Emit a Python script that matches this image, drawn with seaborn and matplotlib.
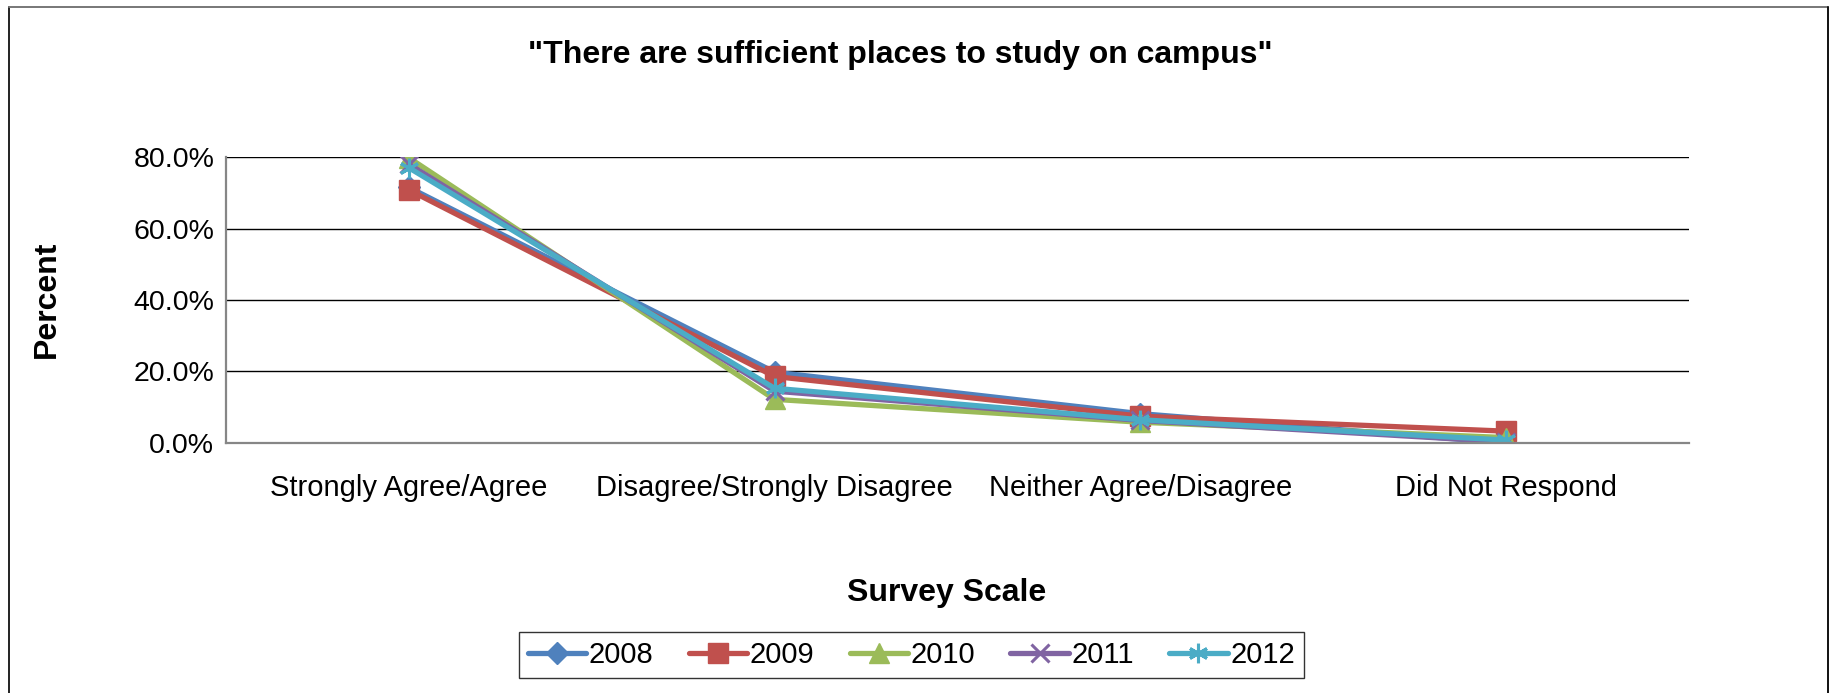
import matplotlib
matplotlib.use("Agg")
import matplotlib.pyplot as plt
import seaborn as sns
import pandas as pd
from matplotlib.lines import Line2D
from matplotlib.ticker import PercentFormatter, FixedLocator

categories = ["Strongly Agree/Agree", "Disagree/Strongly Disagree",
              "Neither Agree/Disagree", "Did Not Respond"]
years = ["2008", "2009", "2010", "2011", "2012"]
v2008 = [71.5, 19.8, 8.2, 0.0]
v2009 = [70.8, 18.6, 7.5, 3.3]
v2010 = [79.8, 12.2, 5.8, 1.5]
v2011 = [78.0, 14.5, 6.3, 0.3]
v2012 = [77.0, 15.3, 6.5, 0.8]
series = [v2008, v2009, v2010, v2011, v2012]

colors = ["#4F81BD", "#C0504D", "#9BBB59", "#8064A2", "#4BACC6"]
markers = ["D", "s", "^", "x", (6, 2, 0)]
msizes = [11, 14, 14, 13, 14]

sns.set_theme(style="white")
plt.rcParams['font.family'] = ['Liberation Sans', 'DejaVu Sans']
plt.rcParams['text.color'] = 'black'
plt.rcParams['axes.labelcolor'] = 'black'
plt.rcParams['xtick.color'] = 'black'
plt.rcParams['ytick.color'] = 'black'

fig = plt.figure(figsize=(18.34, 6.93), dpi=100)
ax = fig.add_axes([0.1232, 0.3608, 0.9209 - 0.1232, 0.7734 - 0.3608])

rows = []
for y, vals in zip(years, series):
    for i, (c, v) in enumerate(zip(categories, vals)):
        rows.append({"pos": i, "cat": c, "year": y, "val": v / 100.0})
df = pd.DataFrame(rows)

def mew(m):
    return 2.2 if m in ("x", (6, 2, 0)) else 1

for y, col, mk, ms in zip(years, colors, markers, msizes):
    d = df[df["year"] == y]
    sns.lineplot(data=d, x="pos", y="val", ax=ax, color=col, lw=3.8,
                 marker=mk, markersize=ms, markeredgecolor=col,
                 markeredgewidth=mew(mk), sort=False, legend=False)

ax.set_xlim(-0.5, len(categories) - 0.5)
ax.set_ylim(0, 0.8)
ax.yaxis.set_major_locator(FixedLocator([0, 0.2, 0.4, 0.6, 0.8]))
ax.yaxis.set_major_formatter(PercentFormatter(1.0, decimals=1))
ax.set_xticks([i + 0.5 for i in range(-1, len(categories))], minor=False)
ax.set_xticklabels([])
ax.set_xticks(range(len(categories)), minor=True)
ax.set_xticklabels(categories, minor=True)
ax.tick_params(axis="x", which="major", length=8, width=1.3, color="#868686", direction="out")
ax.tick_params(axis="x", which="minor", length=0, labelsize=21, pad=22, labelcolor="black")
ax.tick_params(axis="y", length=7, width=1.3, color="#868686", direction="out",
               labelsize=20.5, pad=1.5, labelcolor="black")

ax.grid(False)
for yv in [0.2, 0.4, 0.6, 0.8]:
    ax.axhline(yv, color="#000000", lw=1.0, zorder=0)
for s in ["top", "right"]:
    ax.spines[s].set_visible(False)
for s in ["left", "bottom"]:
    ax.spines[s].set_color("#868686")
    ax.spines[s].set_linewidth(1.6)

ax.set_xlabel("")
ax.set_ylabel("")
fig.text(0.5164, 0.1443, "Survey Scale", ha="center", va="center",
         fontsize=23, fontweight="bold")
fig.text(0.0256, 0.568, "Percent", ha="center", va="center", rotation=90,
         fontsize=23, fontweight="bold")
fig.text(0.491, 0.921, '"There are sufficient places to study on campus"',
         ha="center", va="center", fontsize=23, fontweight="bold")

handles = [Line2D([0], [0], color=c, lw=3.8, marker=m, markersize=ms,
                  markeredgecolor=c, markeredgewidth=mew(m))
           for c, m, ms in zip(colors, markers, msizes)]
leg = fig.legend(handles, years, loc="center", bbox_to_anchor=(0.497, 0.0548),
                 ncol=5, fontsize=21, frameon=True, fancybox=False,
                 handlelength=2.0, handletextpad=0.1, columnspacing=1.2,
                 borderpad=0.3, edgecolor="black")
leg.get_frame().set_linewidth(1.0)

# outer chart border
W, H = 1834, 693
fig.add_artist(Line2D([9 / W, 9 / W], [0, 1 - 7 / H], color="#222222", lw=1.4, transform=fig.transFigure))
fig.add_artist(Line2D([9 / W, 1828 / W], [1 - 7 / H, 1 - 7 / H], color="#777777", lw=1.4, transform=fig.transFigure))
fig.add_artist(Line2D([1828 / W, 1828 / W], [0, 1 - 7 / H], color="#111111", lw=1.4, transform=fig.transFigure))

fig.savefig("out.png", dpi=100)
